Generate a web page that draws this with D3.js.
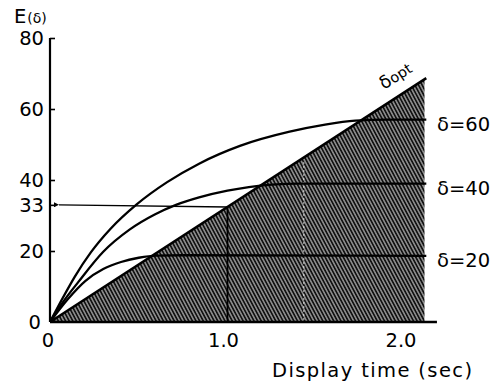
<!DOCTYPE html>
<html>
<head>
<meta charset="utf-8">
<script src="https://cdn.jsdelivr.net/npm/d3@7"></script>
<style>
  html, body { margin: 0; padding: 0; background: #fff; }
  svg { display: block; }
  text { font-family: "DejaVu Sans", "Liberation Sans", sans-serif; fill: #000; }
</style>
</head>
<body>
<svg id="chart" width="490" height="385"></svg>
<script>
// ---- data ----
const xTicks = [0, 1.0, 2.0];
const xTickLabels = ["0", "1.0", "2.0"];
const yTicks = [0, 20, 33, 40, 60, 80];
const yTickLabels = ["0", "20", "33", "40", "60", "80"];

const curve60 = [[0,0],[0.07,6.6],[0.14,12.8],[0.23,19.6],[0.34,26.2],[0.49,33.2],[0.66,39.4],[0.84,44.6],[1.07,49.6],[1.35,53.6],[1.55,55.6],[1.72,56.7],[1.9,57],[2.12,57]];
const curve40 = [[0,0],[0.07,5.4],[0.16,11.3],[0.3,19.8],[0.45,26.1],[0.59,30.3],[0.71,33],[0.84,35.1],[1.0,37],[1.12,38],[1.25,38.7],[1.4,39],[2.12,39]];
const curve20 = [[0,0],[0.1,6.4],[0.2,11.6],[0.3,14.9],[0.4,16.9],[0.5,18.1],[0.6,18.7],[0.75,18.8],[2.12,18.6]];
const seriesLabels = ["δ=60", "δ=40", "δ=20"];
const seriesLevels = [57, 39, 18.6];

const optLine = [[0,0],[2.12,68.7]];
const hatchRegion = [[0,0],[2.11,68.4],[2.11,0]];
const readTime = 1.0;
const readValue = 32.4;
const dashedTime = 1.43;
const dashedTop = 46.3;

// ---- drawing ----
const svg = d3.select("#chart");
const x = d3.scaleLinear().domain([0, 2]).range([50, 405]);
const y = d3.scaleLinear().domain([0, 80]).range([322, 38]);

// hatch pattern
const defs = svg.append("defs");
const pat = defs.append("pattern")
  .attr("id", "hatch").attr("patternUnits", "userSpaceOnUse")
  .attr("width", 3.2).attr("height", 10)
  .attr("patternTransform", "rotate(-28)");
pat.append("rect").attr("width", 3.2).attr("height", 10).attr("fill", "#121212");
pat.append("line").attr("x1", 1.6).attr("x2", 1.6).attr("y1", 0).attr("y2", 10)
  .attr("stroke", "#f4f4f4").attr("stroke-width", 0.85);

const marker = defs.append("marker")
  .attr("id", "arrow").attr("viewBox", "0 0 10 10")
  .attr("refX", 0).attr("refY", 5)
  .attr("markerWidth", 7).attr("markerHeight", 5)
  .attr("markerUnits", "userSpaceOnUse")
  .attr("orient", "auto-start-reverse");
marker.append("path").attr("d", "M10,0 L0,5 L10,10 Z").attr("fill", "#000");

const line = d3.line().x(d => x(d[0])).y(d => y(d[1]));
const smooth = d3.line().x(d => x(d[0])).y(d => y(d[1])).curve(d3.curveMonotoneX);

// hatched region
svg.append("path").datum(hatchRegion)
  .attr("d", line(hatchRegion) + "Z")
  .attr("fill", "url(#hatch)");

// white dashed artifact line inside the hatch
svg.append("line")
  .attr("x1", x(dashedTime)).attr("x2", x(dashedTime))
  .attr("y1", y(0) - 2).attr("y2", y(dashedTop) + 3)
  .attr("stroke", "#fff").attr("stroke-width", 1)
  .attr("stroke-dasharray", "2,2").attr("opacity", 0.75);

// vertical reading line at t = 1.0
svg.append("line")
  .attr("x1", x(readTime)).attr("x2", x(readTime))
  .attr("y1", y(0)).attr("y2", y(readValue))
  .attr("stroke", "#000").attr("stroke-width", 1.8);

// optimum line
svg.append("path").datum(optLine).attr("d", line)
  .attr("fill", "none").attr("stroke", "#000").attr("stroke-width", 2.6);

// curves
[curve60, curve40, curve20].forEach(c => {
  svg.append("path").datum(c).attr("d", smooth)
    .attr("fill", "none").attr("stroke", "#000").attr("stroke-width", 2.3);
});

// horizontal arrow to y axis at 33
svg.append("line")
  .attr("x1", x(readTime)).attr("y1", y(readValue))
  .attr("x2", x(0) + 9).attr("y2", y(33))
  .attr("stroke", "#000").attr("stroke-width", 1.4)
  .attr("marker-end", "url(#arrow)");

// axes
const yAxis = d3.axisRight(y).tickValues(yTicks).tickSize(5).tickFormat(() => "");
const gy = svg.append("g").attr("transform", `translate(${x(0)},0)`).call(yAxis);
gy.select(".domain").attr("stroke-width", 2.2).attr("d", `M0,${y(0)}V${y(80)}`);
gy.selectAll(".tick line").attr("stroke-width", 1.6);
gy.selectAll(".tick").filter(d => d === 0).remove();

svg.append("line")
  .attr("x1", x(0)).attr("x2", x(2.18)).attr("y1", y(0)).attr("y2", y(0))
  .attr("stroke", "#000").attr("stroke-width", 2.4);

// y tick labels
svg.append("g").selectAll("text").data(yTicks).join("text")
  .attr("x", d => d === 0 ? 41 : 44)
  .attr("y", d => y(d))
  .attr("dy", "0.36em")
  .attr("text-anchor", "end")
  .attr("font-size", 19.5)
  .text((d, i) => yTickLabels[i]);

// x tick labels
svg.append("g").selectAll("text").data(xTicks).join("text")
  .attr("x", d => d === 0 ? x(d) - 2 : x(d) - 4)
  .attr("y", y(0) + 25)
  .attr("text-anchor", "middle")
  .attr("font-size", 19.5)
  .text((d, i) => xTickLabels[i]);

// axis titles
const et = svg.append("text").attr("x", 14).attr("y", 23);
et.append("tspan").attr("font-size", 19.5).text("E");
et.append("tspan").attr("font-size", 14).attr("dx", 1).text("(δ)");

svg.append("text")
  .attr("x", 272).attr("y", 377)
  .attr("font-size", 19.5)
  .attr("textLength", 200).attr("lengthAdjust", "spacing")
  .text("Display time (sec)");

// series labels on the right
svg.append("g").selectAll("text").data(seriesLevels).join("text")
  .attr("x", 437)
  .attr("y", d => y(d) + 4)
  .attr("dy", "0.36em")
  .attr("font-size", 19.5)
  .text((d, i) => seriesLabels[i]);

// delta-opt label along the line
const ang = Math.atan2(y(optLine[1][1]) - y(0), x(optLine[1][0]) - x(0)) * 180 / Math.PI;
const ot = svg.append("text")
  .attr("transform", `translate(384,90) rotate(${ang})`)
  .attr("font-size", 18);
ot.append("tspan").text("δ");
ot.append("tspan").attr("font-size", 14.5).text("opt");
</script>
</body>
</html>
